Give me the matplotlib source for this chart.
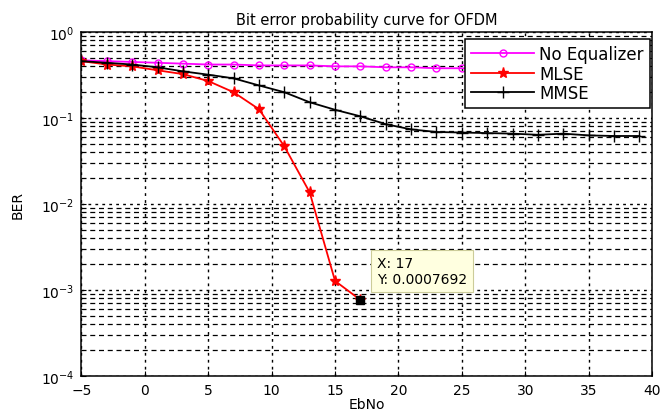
import numpy as np
import matplotlib
matplotlib.use('Agg')
import matplotlib.pyplot as plt

plt.rcParams['font.family'] = ['DejaVu Sans']

# EbNo values (dB), one point every 2 dB
ebno = list(range(-5, 40, 2))

ber_none = [0.47, 0.46, 0.45, 0.44, 0.43, 0.42, 0.42, 0.41, 0.41, 0.41, 0.40,
            0.40, 0.39, 0.39, 0.38, 0.38, 0.38, 0.37, 0.37, 0.37, 0.36, 0.36, 0.36]
ber_mmse = [0.46, 0.44, 0.42, 0.39, 0.35, 0.32, 0.29, 0.24, 0.20, 0.153, 0.125,
            0.105, 0.085, 0.074, 0.069, 0.068, 0.067, 0.066, 0.064, 0.066, 0.063, 0.062, 0.062]
# MLSE drops to zero errors after 17 dB
ebno_mlse = list(range(-5, 18, 2))
ber_mlse = [0.46, 0.42, 0.40, 0.36, 0.325, 0.27, 0.20, 0.127, 0.047, 0.0137, 0.00128, 0.0007692]

fig = plt.figure(figsize=(6.62, 4.14), dpi=100)
ax = fig.add_axes([0.123, 0.089, 0.862, 0.831])

ax.semilogy(ebno, ber_none, color='#ff00ff', marker='o', markersize=5,
            markerfacecolor='none', linewidth=1.3, label='No Equalizer')
ax.semilogy(ebno_mlse, ber_mlse, color='#ff0000', marker='*', markersize=8,
            linewidth=1.3, label='MLSE')
ax.semilogy(ebno, ber_mmse, color='black', marker='+', markersize=8,
            linewidth=1.3, label='MMSE')

ax.set_xlim(-5, 40)
ax.set_ylim(1e-4, 1)
ax.set_xticks(range(-5, 41, 5))

ax.grid(True, which='major', color='black', linestyle=(0, (2, 3)), linewidth=1.0)
ax.grid(True, which='minor', axis='y', color='black', linestyle=(0, (4, 3)), linewidth=0.9)
ax.tick_params(which='both', direction='in', labelsize=10, pad=5)
ax.tick_params(which='minor', length=0)
for s in ax.spines.values():
    s.set_linewidth(1.1)

ax.set_title('Bit error probability curve for OFDM', fontsize=10.5, pad=6)
ax.set_xlabel('EbNo', fontsize=10, labelpad=0)
ax.set_ylabel('BER', fontsize=10, labelpad=12)

leg = ax.legend(loc='upper right', bbox_to_anchor=(0.996, 0.98), fontsize=12,
                fancybox=False, framealpha=1, edgecolor='black', handlelength=3.8,
                borderaxespad=0.0, labelspacing=0.1, borderpad=0.35, handletextpad=0.3)
leg.get_frame().set_linewidth(1.1)

# data tip at the last MLSE point
ax.plot([ebno_mlse[-1]], [ber_mlse[-1]], marker='s', color='black', markersize=6)
ax.annotate('X: 17\nY: 0.0007692', xy=(ebno_mlse[-1], ber_mlse[-1]),
            xytext=(12, 10), textcoords='offset points', fontsize=10,
            va='bottom', ha='left', linespacing=1.2,
            bbox=dict(boxstyle='square,pad=0.45', facecolor='#ffffe0',
                      edgecolor='#cccc99', linewidth=0.8))

fig.savefig('out.png', dpi=100)
